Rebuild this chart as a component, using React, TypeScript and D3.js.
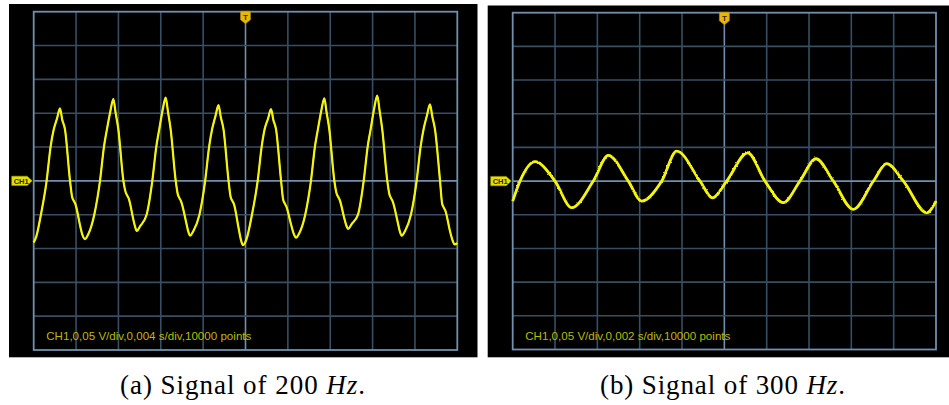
import React from "react";
import * as d3 from "d3";

// ---- Data (time in ms, voltage in V) ----
const signal200: [number, number][] = [
  [0, -0.091], [0.25, -0.082], [0.68, -0.05], [1.22, 0.0], [1.6, 0.051], [1.88, 0.075], [2.2, 0.092], [2.48, 0.107], [2.7, 0.09], [2.95, 0.0765], [3.43, 0.0], [3.63, -0.024], [3.8, -0.03], [3.93, -0.034], [4.38, -0.066], [4.6, -0.08], [4.84, -0.086],
  [5.15, -0.079], [5.72, -0.05], [6.26, 0.0], [6.64, 0.051], [6.92, 0.0765], [7.24, 0.103], [7.52, 0.121], [7.74, 0.1], [7.99, 0.0765], [8.47, 0.0], [8.67, -0.016], [8.84, -0.022], [8.97, -0.026], [9.42, -0.058], [9.58, -0.068], [9.73, -0.074],
  [10.05, -0.067], [10.66, -0.05], [11.2, 0.0], [11.58, 0.051], [11.86, 0.0765], [12.18, 0.105], [12.46, 0.123], [12.68, 0.102], [12.93, 0.0765], [13.41, 0.0], [13.61, -0.02], [13.78, -0.026], [13.91, -0.03], [14.38, -0.06], [14.58, -0.074], [14.76, -0.081],
  [15.08, -0.074], [15.65, -0.05], [16.19, 0.0], [16.57, 0.051], [16.85, 0.0765], [17.17, 0.096], [17.45, 0.112], [17.67, 0.094], [17.92, 0.0765], [18.4, 0.0], [18.6, -0.024], [18.77, -0.03], [18.9, -0.034], [19.35, -0.07], [19.55, -0.086], [19.76, -0.095],
  [20.08, -0.087], [20.61, -0.05], [21.15, 0.0], [21.53, 0.051], [21.81, 0.0765], [22.13, 0.092], [22.41, 0.106], [22.63, 0.09], [22.88, 0.0765], [23.36, 0.0], [23.56, -0.028], [23.73, -0.034], [23.86, -0.038], [24.31, -0.065], [24.55, -0.078], [24.77, -0.084],
  [25.09, -0.077], [25.64, -0.05], [26.18, 0.0], [26.56, 0.051], [26.84, 0.0765], [27.16, 0.104], [27.44, 0.122], [27.66, 0.101], [27.91, 0.0765], [28.39, 0.0], [28.59, -0.018], [28.76, -0.024], [28.89, -0.028], [29.34, -0.056], [29.52, -0.066], [29.7, -0.071],
  [30.02, -0.064], [30.62, -0.05], [31.16, 0.0], [31.54, 0.051], [31.82, 0.0765], [32.14, 0.106], [32.44, 0.126], [32.66, 0.104], [32.91, 0.0765], [33.39, 0.0], [33.59, -0.02], [33.76, -0.026], [33.89, -0.03], [34.36, -0.06], [34.56, -0.074], [34.75, -0.081],
  [35.07, -0.074], [35.62, -0.05], [36.16, 0.0], [36.54, 0.051], [36.82, 0.0765], [37.14, 0.097], [37.42, 0.113], [37.64, 0.095], [37.89, 0.0765], [38.37, 0.0], [38.57, -0.034], [38.74, -0.04], [38.87, -0.044], [39.32, -0.075], [39.55, -0.088], [39.75, -0.094], [40.0, -0.092],
];

const signal300: [number, number][] = [
  [0, -0.0297], [0.345, 0], [1.054, 0.0288], [1.998, 0], [2.788, -0.0395], [3.808, 0], [4.517, 0.0381], [5.462, 0], [6.095, -0.0297], [7.04, 0], [7.749, 0.0445], [8.85, 0], [9.44, -0.0249], [10.11, 0], [11.1, 0.0421], [11.92, 0], [12.785, -0.032], [13.57, 0], [14.33, 0.0332], [15.15, 0], [16.09, -0.042], [17.04, 0], [17.67, 0.0258], [18.46, 0], [19.56, -0.0469], [20.0, -0.0297],
];

const timePerDiv = [4, 2]; // ms/div
const voltPerDiv = [0.05, 0.05];
const infoLabels = [
  "CH1,0,05 V/div,0,004 s/div,10000 points",
  "CH1,0,05 V/div,0,002 s/div,10000 points",
];
const captionLetters = ["(a)", "(b)"];
const captionFreqs = ["200", "300"];
const divisionCount = 10;

type PanelProps = {
  idx: number;
  bg: [number, number, number, number];
  grid: [number, number, number, number];
  data: [number, number][];
  noise: string;
  strokeW: number;
};

function Panel({ idx, bg, grid, data, noise, strokeW }: PanelProps) {
  const [gx0, gy0, gx1, gy1] = grid;
  const x = d3.scaleLinear().domain([0, divisionCount * timePerDiv[idx]]).range([gx0, gx1]);
  const half = (divisionCount / 2) * voltPerDiv[idx];
  const y = d3.scaleLinear().domain([-half, half]).range([gy1, gy0]);
  const line = d3
    .line<[number, number]>()
    .x((d) => x(d[0]))
    .y((d) => y(d[1]))
    .curve(d3.curveMonotoneX);
  const xs = d3.range(divisionCount + 1).map((i) => gx0 + ((gx1 - gx0) * i) / divisionCount);
  const ys = d3.range(divisionCount + 1).map((i) => gy0 + ((gy1 - gy0) * i) / divisionCount);
  const cx = (gx0 + gx1) / 2;
  const cy = y(0);
  const inner = "#384e63";
  const bright = "#7190ab";
  const chX1 = gx0 - 1.5;
  const chX0 = gx0 - 22;
  const path = line(data) || "";
  return (
    <g>
      <rect x={bg[0]} y={bg[1]} width={bg[2] - bg[0]} height={bg[3] - bg[1]} fill="#000" />
      {xs.slice(1, -1).map((v, i) => (
        <line key={"v" + i} x1={v} x2={v} y1={gy0} y2={gy1} stroke={i === 4 ? bright : inner} strokeWidth={1.6} />
      ))}
      {ys.slice(1, -1).map((v, i) => (
        <line key={"h" + i} x1={gx0} x2={gx1} y1={v} y2={v} stroke={i === 4 ? bright : inner} strokeWidth={1.6} />
      ))}
      <rect x={gx0} y={gy0} width={gx1 - gx0} height={gy1 - gy0} fill="none" stroke={bright} strokeWidth={1.8} />
      <path d={path} fill="none" stroke="#f4f40c" strokeWidth={strokeW} filter={`url(#${noise})`} strokeLinejoin="round" />
      <path d={path} fill="none" stroke="#f4f40c" strokeWidth={strokeW * 0.6} strokeLinejoin="round" opacity={0.9} />
      <text x={gx0 + 12.5} y={gy1 - 10} fontFamily="'Liberation Sans', Arial, sans-serif" fontSize={11.6} fill="#baba00">
        {infoLabels[idx]}
      </text>
      {/* trigger marker */}
      <path
        d={`M${cx - 5},${gy0 - 0.5} L${cx + 5},${gy0 - 0.5} L${cx + 5},${gy0 + 8} L${cx},${gy0 + 12} L${cx - 5},${gy0 + 8} Z`}
        fill="#e8b800"
        stroke="#b08a00"
        strokeWidth={0.6}
      />
      <text x={cx} y={gy0 + 8} textAnchor="middle" fontFamily="'Liberation Sans', Arial, sans-serif" fontWeight="bold" fontSize={8} fill="#3a2a00">
        T
      </text>
      {/* channel marker */}
      <path
        d={`M${chX0},${cy - 4.7} L${chX1 - 5},${cy - 4.7} L${chX1},${cy} L${chX1 - 5},${cy + 4.7} L${chX0},${cy + 4.7} Z`}
        fill="#e6e000"
        stroke="#a8a000"
        strokeWidth={0.5}
      />
      <text x={chX0 + 2} y={cy + 3} fontFamily="'Liberation Sans', Arial, sans-serif" fontWeight="bold" fontSize={7.5} fill="#2a2a00">
        CH1
      </text>
    </g>
  );
}

export default function App() {
  const captionX = [242.5, 722.5];
  return (
    <svg width={949} height={405} style={{ position: "absolute", left: 0, top: 0, background: "#fff" }}>
      <defs>
        <filter id="noiseA" x="-2%" y="-10%" width="104%" height="120%">
          <feTurbulence type="fractalNoise" baseFrequency="0.7" numOctaves={1} seed={3} />
          <feDisplacementMap in="SourceGraphic" scale={1.4} xChannelSelector="R" yChannelSelector="G" />
        </filter>
        <filter id="noiseB" x="-2%" y="-20%" width="104%" height="140%">
          <feTurbulence type="fractalNoise" baseFrequency="0.8" numOctaves={1} seed={7} />
          <feDisplacementMap in="SourceGraphic" scale={2.4} xChannelSelector="R" yChannelSelector="G" />
        </filter>
      </defs>
      <rect x={0} y={0} width={949} height={405} fill="#fff" />
      <Panel idx={0} bg={[9, 4, 477.5, 357.3]} grid={[33.7, 11.7, 457.3, 350]} data={signal200} noise="noiseA" strokeW={2.2} />
      <Panel idx={1} bg={[487.7, 5.5, 949, 357.3]} grid={[512.7, 12.7, 936, 349.5]} data={signal300} noise="noiseB" strokeW={2.8} />
      {captionX.map((cxv, i) => (
        <text
          key={i}
          x={cxv - 122.5}
          y={394}
          textLength={245}
          lengthAdjust="spacing"
          fontFamily="'Liberation Serif', 'Times New Roman', serif"
          fontSize={27}
          fill="#000"
        >
          {`${captionLetters[i]} Signal of ${captionFreqs[i]} `}
          <tspan fontStyle="italic">Hz</tspan>
          {"."}
        </text>
      ))}
    </svg>
  );
}
